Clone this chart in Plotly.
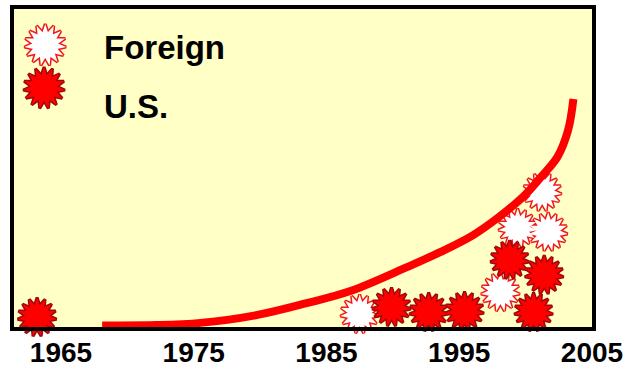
import plotly.graph_objects as go

# data (x in years, y in arbitrary units 0-100)
foreign_year = [1987.5, 1998.1, 1999.4, 2001.7, 2001.25]
foreign_y = [4.1, 11.0, 31.1, 29.9, 42.5]

us_year = [1963.2, 1989.9, 1992.7, 1995.4, 1998.8, 2001.4, 2000.6]
us_y = [3.1, 6.3, 4.7, 5.0, 21.1, 16.4, 4.7]

curve_year = [1968.1, 1972.2, 1975.5, 1979.8, 1983.5, 1986.8, 1991.1, 1993.6,
              1996.05, 1997.9, 1999.8, 2001.1, 2002.4, 2003.2, 2003.6]
curve_y = [0.5, 0.6, 1.3, 3.8, 7.5, 11.3, 18.9, 23.6,
           28.9, 34.3, 40.9, 46.9, 53.5, 61.9, 71.7]

tick_years = [1965, 1975, 1985, 1995, 2005]

BG = "#FFFFC6"
RED = "#FF0000"
FONT = "Liberation Sans, Arial, sans-serif"

fig = go.Figure()


def add_burst(x, y, fill, edge, size, xaxis="x", yaxis="y"):
    # 3 rotated 5-point stars -> 15 point burst
    # outline pass first, then a fill pass on top to hide the inner edges
    for width in (3, 0):
        for ang in (0, 24, 48):
            fig.add_trace(go.Scatter(
                x=x, y=y, mode="markers", xaxis=xaxis, yaxis=yaxis,
                cliponaxis=False, hoverinfo="skip", showlegend=False,
                marker=dict(symbol="star", size=size, angle=ang, color=fill,
                            line=dict(color=edge, width=width))))


add_burst(foreign_year, foreign_y, "white", "#F01818", 28)
add_burst(us_year, us_y, RED, "#9A0A0A", 28)

# growth curve
fig.add_trace(go.Scatter(x=curve_year, y=curve_y, mode="lines",
                         line=dict(color=RED, width=8, shape="spline"),
                         hoverinfo="skip", showlegend=False))

# hand-made legend keys on an overlay axis (0-1)
add_burst([0.054], [0.887], "white", "#F01818", 30, "x2", "y2")
add_burst([0.052], [0.752], RED, "#9A0A0A", 30, "x2", "y2")

fig.add_annotation(x=0.152, y=0.88, xref="paper", yref="paper", text="<b>Foreign</b>",
                   showarrow=False, xanchor="left", yanchor="middle",
                   font=dict(family=FONT, size=33, color="black"))
fig.add_annotation(x=0.152, y=0.692, xref="paper", yref="paper", text="<b>U.S.</b>",
                   showarrow=False, xanchor="left", yanchor="middle",
                   font=dict(family=FONT, size=33, color="black"))

fig.update_layout(
    width=630, height=369,
    margin=dict(l=14, r=38, t=9, b=42, autoexpand=False),
    paper_bgcolor="white", plot_bgcolor=BG,
    showlegend=False,
    xaxis=dict(range=[1961.46, 2005.0], tickvals=tick_years,
               ticktext=["<b>%d</b>" % t for t in tick_years],
               tickfont=dict(family=FONT, size=28, color="black"),
               ticks="", ticklabeloverflow="allow", ticklabelstandoff=-3,
               showline=True, mirror=True, linecolor="black", linewidth=4,
               showgrid=False, zeroline=False, fixedrange=True),
    yaxis=dict(range=[0, 100], showticklabels=False, ticks="",
               showline=True, mirror=True, linecolor="black", linewidth=4,
               showgrid=False, zeroline=False, fixedrange=True),
    xaxis2=dict(range=[0, 1], overlaying="x", visible=False, fixedrange=True),
    yaxis2=dict(range=[0, 1], overlaying="y", visible=False, fixedrange=True),
)

# the page body has a default 8px margin; drop it so the figure sits at 0,0
fig.write_html("out.html", config={"displayModeBar": False},
               post_script="document.body.style.margin='0';")
